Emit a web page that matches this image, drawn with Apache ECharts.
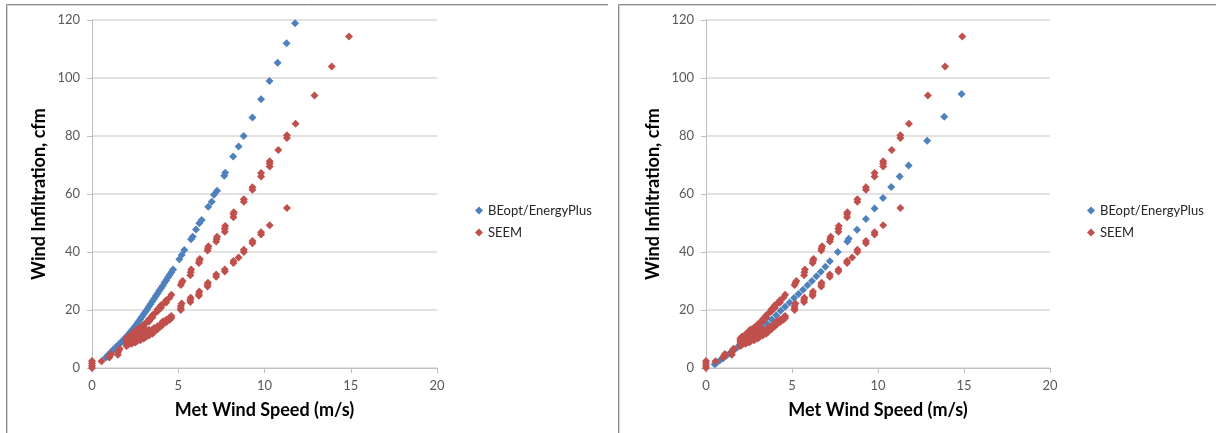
<!DOCTYPE html>
<html>
<head>
<meta charset="utf-8">
<script src="https://cdn.jsdelivr.net/npm/echarts@6/dist/echarts.min.js"></script>
<style>
  html, body { margin: 0; padding: 0; background: #fff; }
  #main { width: 1216px; height: 433px; }
</style>
</head>
<body>
<div id="main"></div>
<script>
// axis ticks
const xTicks = [0, 5, 10, 15, 20];
const yTicks = [0, 20, 40, 60, 80, 100, 120];
const seriesNames = ["BEopt/EnergyPlus", "SEEM"];

// BEopt/EnergyPlus, left chart: [met wind speed m/s, infiltration cfm]
const beoptLeft = [
  [0.8, 3.6], [0.9, 4.2], [1.0, 4.8], [1.1, 5.4], [1.2, 6.0], [1.3, 6.6], [1.4, 7.2],
  [1.5, 7.8], [1.6, 8.4], [1.7, 9.0], [1.8, 9.6], [1.9, 10.2], [2.0, 10.8], [2.1, 11.5],
  [2.2, 12.2], [2.3, 12.9], [2.4, 13.6], [2.5, 14.4], [2.6, 15.2], [2.7, 16.0], [2.8, 16.9],
  [2.9, 17.7], [3.0, 18.6], [3.1, 19.4], [3.2, 20.3], [3.3, 21.2], [3.4, 22.1], [3.5, 23.0],
  [3.6, 23.9], [3.7, 24.8], [3.8, 25.7], [3.9, 26.6], [4.0, 27.5], [4.1, 28.4], [4.2, 29.4],
  [4.3, 30.3], [4.4, 31.2], [4.5, 32.1], [4.6, 33.0], [4.7, 34.0],
  [5.06, 37.5], [5.2, 39.0], [5.35, 40.7], [5.74, 44.4], [5.84, 45.3], [6.03, 47.8],
  [6.22, 49.9], [6.36, 51.0], [6.74, 55.6], [6.94, 57.3], [7.07, 59.7], [7.25, 61.1],
  [7.67, 66.3], [7.72, 67.3], [8.18, 72.9], [8.5, 76.4], [8.79, 80.0], [9.3, 86.4],
  [9.8, 92.7], [10.29, 99.0], [10.76, 105.3], [11.28, 112.0], [11.77, 118.9]
];

// BEopt/EnergyPlus, right chart
const beoptRight = [
  [0.5, 1.3], [0.6, 1.7], [0.8, 2.6], [1.0, 3.4], [1.2, 4.3], [1.4, 5.2], [1.6, 6.1],
  [1.8, 7.0], [2.0, 7.9], [2.26, 9.2], [2.52, 10.5], [2.78, 11.7], [3.04, 12.9], [3.3, 14.0],
  [3.56, 15.3], [3.82, 16.7], [4.08, 18.2], [4.34, 19.7], [4.6, 21.1], [4.86, 22.6],
  [5.12, 24.1], [5.38, 25.5], [5.64, 27.0], [5.9, 28.5], [6.16, 30.0], [6.42, 31.6],
  [6.68, 33.2], [6.94, 34.9], [7.2, 36.8],
  [7.66, 40.0], [8.22, 43.6], [8.3, 44.6], [8.78, 47.7], [9.3, 51.4], [9.8, 55.0],
  [10.29, 58.6], [10.77, 62.4], [11.26, 66.0], [11.78, 69.8], [12.86, 78.4],
  [13.85, 86.6], [14.86, 94.5]
];

// SEEM (same in both charts)
const seem = [
  [0, 0], [0, 0.8], [0, 1.6], [0, 2.4], [0.55, 2.3], [1.0, 3.6], [1.05, 4.3], [1.1, 4.8],
  [1.5, 4.6], [1.5, 5.4], [1.55, 6.0], [1.6, 6.6],
  [2.0, 7.6], [2.0, 8.3], [2.0, 9.0], [2.0, 9.6], [2.0, 10.2], [2.1, 8.0], [2.1, 10.9],
  [2.3, 8.4], [2.3, 9.2], [2.3, 10.0], [2.3, 11.0], [2.3, 11.6],
  [2.5, 8.8], [2.5, 9.6], [2.5, 10.6], [2.5, 12.0], [2.5, 12.8], [2.6, 9.2], [2.6, 11.2], [2.6, 13.3],
  [2.8, 9.6], [2.8, 10.4], [2.8, 11.6], [2.8, 13.2], [2.8, 14.0],
  [3.0, 10.2], [3.0, 11.0], [3.0, 12.0], [3.0, 14.2], [3.0, 15.0], [3.1, 10.6], [3.1, 12.6], [3.1, 15.4],
  [3.3, 11.2], [3.3, 12.0], [3.3, 13.2], [3.3, 16.0], [3.3, 16.8],
  [3.5, 11.8], [3.5, 13.2], [3.5, 17.4], [3.5, 18.2], [3.6, 12.4], [3.6, 13.8], [3.6, 18.6],
  [3.8, 13.4], [3.8, 14.4], [3.8, 19.6], [3.8, 20.3], [4.0, 14.4], [4.0, 15.2], [4.0, 20.8], [4.0, 21.6],
  [4.1, 15.0], [4.1, 16.0], [4.1, 22.0], [4.3, 15.8], [4.3, 16.6], [4.3, 22.6], [4.3, 23.4],
  [4.5, 16.6], [4.5, 17.4], [4.5, 24.2], [4.6, 17.2], [4.6, 17.9], [4.6, 25.3],
  [5.15, 20.0], [5.15, 20.6], [5.15, 21.4], [5.2, 22.2], [5.15, 28.6], [5.2, 29.4], [5.25, 30.0],
  [5.7, 22.8], [5.7, 23.5], [5.72, 24.2], [5.7, 32.0], [5.72, 33.0], [5.75, 34.0],
  [6.2, 24.9], [6.2, 25.6], [6.22, 26.4], [6.2, 36.2], [6.22, 37.0], [6.25, 37.6],
  [6.7, 28.1], [6.7, 28.8], [6.72, 29.4], [6.7, 40.5], [6.72, 41.3], [6.75, 42.0],
  [7.2, 31.5], [7.2, 32.2], [7.2, 43.6], [7.22, 44.5], [7.25, 45.3],
  [7.7, 33.3], [7.7, 34.0], [7.7, 47.0], [7.7, 48.0], [7.72, 49.0],
  [8.2, 36.2], [8.2, 36.9], [8.2, 52.0], [8.2, 53.0], [8.22, 53.7], [8.5, 38.1],
  [8.8, 40.0], [8.8, 40.8], [8.8, 57.3], [8.8, 58.2],
  [9.3, 43.0], [9.3, 43.8], [9.3, 61.5], [9.3, 62.3],
  [9.8, 46.0], [9.8, 46.8], [9.8, 66.0], [9.8, 67.2],
  [10.3, 49.2], [10.3, 69.5], [10.3, 70.5], [10.3, 71.3], [10.8, 75.2],
  [11.3, 55.2], [11.3, 79.3], [11.3, 80.3], [11.8, 84.2],
  [12.9, 94.0], [13.9, 104.0], [14.9, 114.3]
];

const blue = "#4F81BD";
const red = "#C0504D";
const font = "Lato, 'Open Sans', sans-serif";

function xAxisFor(gridIndex) {
  return {
    gridIndex: gridIndex,
    type: "value",
    min: xTicks[0],
    max: xTicks[xTicks.length - 1],
    interval: xTicks[1] - xTicks[0],
    name: "Met Wind Speed (m/s)",
    nameLocation: "middle",
    nameGap: 33,
    nameTextStyle: { fontFamily: font, fontSize: 18, fontWeight: "bold", color: "#000" },
    axisLine: { show: true, lineStyle: { color: "#bfbfbf" } },
    axisTick: { show: true, length: 5, lineStyle: { color: "#bfbfbf" } },
    axisLabel: { fontFamily: font, fontSize: 13, color: "#595959", margin: 11 },
    splitLine: { show: false }
  };
}

function yAxisFor(gridIndex) {
  return {
    gridIndex: gridIndex,
    type: "value",
    min: yTicks[0],
    max: yTicks[yTicks.length - 1],
    interval: yTicks[1] - yTicks[0],
    name: "Wind Infiltration, cfm",
    nameLocation: "middle",
    nameGap: 44,
    nameTextStyle: { fontFamily: font, fontSize: 18, fontWeight: "bold", color: "#000" },
    axisLine: { show: true, lineStyle: { color: "#bfbfbf" } },
    axisTick: { show: true, length: 5, lineStyle: { color: "#bfbfbf" } },
    axisLabel: { fontFamily: font, fontSize: 13, color: "#595959", margin: 12 },
    splitLine: { show: true, lineStyle: { color: "#d9d9d9", width: 1.5 } }
  };
}

function legendAt(left) {
  return {
    data: seriesNames,
    orient: "vertical",
    left: left,
    top: 199,
    icon: "diamond",
    itemWidth: 8,
    itemHeight: 8,
    itemGap: 9,
    textStyle: { fontFamily: font, fontSize: 13, color: "#262626" }
  };
}

function scatter(name, data, color, idx) {
  return {
    name: name,
    type: "scatter",
    xAxisIndex: idx,
    yAxisIndex: idx,
    data: data,
    symbol: "diamond",
    symbolSize: 8,
    itemStyle: { color: color, opacity: 1 },
    emphasis: { disabled: true }
  };
}

const options = {
  animation: false,
  backgroundColor: "#fff",
  grid: [
    { left: 92, top: 20, width: 345, height: 348 },
    { left: 706, top: 20, width: 344, height: 348 }
  ],
  xAxis: [xAxisFor(0), xAxisFor(1)],
  yAxis: [yAxisFor(0), yAxisFor(1)],
  legend: [legendAt(470), legendAt(1082)],
  series: [
    scatter(seriesNames[0], beoptLeft, blue, 0),
    scatter(seriesNames[1], seem, red, 0),
    scatter(seriesNames[0], beoptRight, blue, 1),
    scatter(seriesNames[1], seem, red, 1)
  ],
  // panel frames
  graphic: [
    { type: "polyline", shape: { points: [[6.5, 440], [6.5, 4.5], [608, 4.5]] }, style: { stroke: "#8a8a8a", lineWidth: 1, fill: null } },
    { type: "polyline", shape: { points: [[7.5, 440], [7.5, 5.5], [608, 5.5]] }, style: { stroke: "#d6d6d6", lineWidth: 1, fill: null } },
    { type: "polyline", shape: { points: [[618.5, 440], [618.5, 4.5], [1220, 4.5]] }, style: { stroke: "#8a8a8a", lineWidth: 1, fill: null } },
    { type: "polyline", shape: { points: [[619.5, 440], [619.5, 5.5], [1220, 5.5]] }, style: { stroke: "#d6d6d6", lineWidth: 1, fill: null } }
  ]
};

let myChart = echarts.init(document.getElementById("main"));
myChart.setOption(options);
</script>
</body>
</html>
